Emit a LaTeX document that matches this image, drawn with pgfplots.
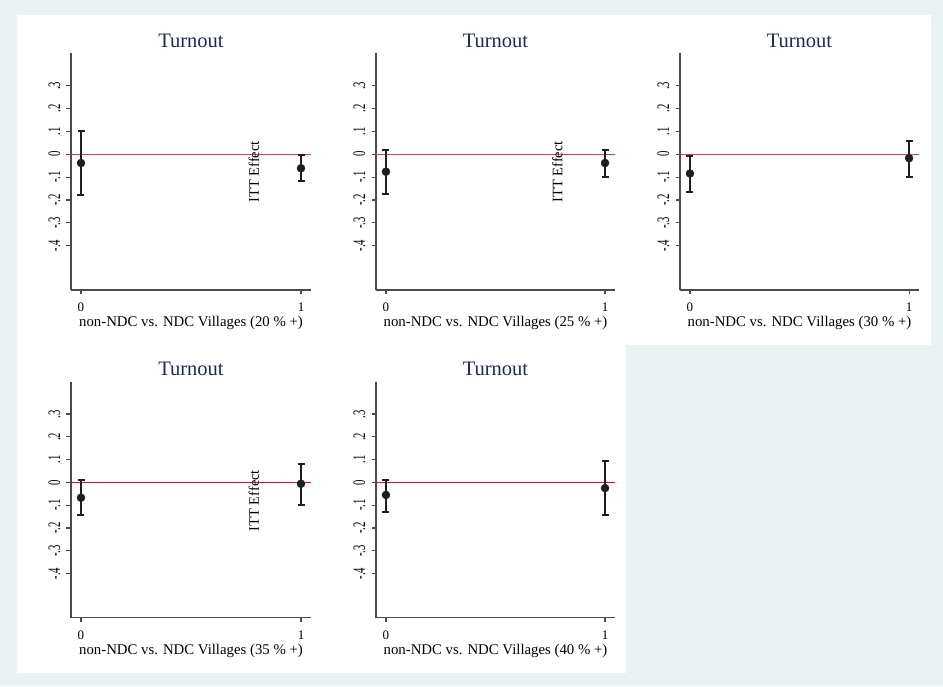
\documentclass[border=0pt]{standalone}
\usepackage{fontspec}
\setmainfont{Liberation Serif}
\usepackage{pgfplots}
\pgfplotsset{compat=1.18}
\usepackage{pgfplotstable}
\definecolor{bg}{HTML}{EAF2F3}
\definecolor{ttl}{HTML}{1C2A5A}
\definecolor{zl}{HTML}{D83A62}
\definecolor{zlb}{HTML}{CC0A33}
\definecolor{axc}{HTML}{4A4A4A}
\definecolor{ptc}{HTML}{1E1E1E}

\pgfplotstableread{
x y ep em
0 -0.038 0.141 0.141
1 -0.061 0.058 0.055
}\dA
\pgfplotstableread{
x y ep em
0 -0.076 0.096 0.096
1 -0.038 0.058 0.060
}\dB
\pgfplotstableread{
x y ep em
0 -0.084 0.075 0.083
1 -0.017 0.077 0.081
}\dC
\pgfplotstableread{
x y ep em
0 -0.067 0.079 0.074
1 -0.006 0.087 0.091
}\dD
\pgfplotstableread{
x y ep em
0 -0.055 0.067 0.074
1 -0.025 0.118 0.116
}\dE

\pgfplotsset{panel/.style={
  scale only axis, width=240pt, height=236.7pt, anchor=south west,
  xmin=-0.04545, xmax=1.04545, ymin=-0.5935, ymax=0.4418,
  axis lines=left, axis line style={-, draw=axc, line width=1.1pt},
  tick align=outside, major tick length=4.5pt,
  tick style={draw=axc, line width=1.1pt},
  xtick={0,1}, xticklabels={0,1},
  ytick={-0.4,-0.3,-0.2,-0.1,0,0.1,0.2,0.3},
  yticklabels={-.4,-.3,-.2,-.1,0,.1,.2,.3},
  xticklabel style={font=\fontsize{13}{15}\selectfont, anchor=base, yshift=-17.5pt},
  yticklabel style={font=\fontsize{13}{15}\selectfont, text=black, anchor=base, xshift=-6.4pt, rotate=90, xscale=0.82, yscale=1.35},
  title=Turnout,
  title style={font=\fontsize{20.5}{24}\selectfont, text=ttl, at={(axis description cs:0.5,1)}, anchor=base, yshift=0pt},
  xlabel style={font=\fontsize{14.8}{17}\selectfont, at={(axis description cs:0.5,0)}, anchor=base, yshift=-36.7pt},
  clip=false,
}}
\newcommand{\pts}[1]{%
  \addplot[only marks, mark=*, mark size=4pt, mark options={fill=ptc, draw=ptc},
    error bars/.cd, y dir=both, y explicit,
    error bar style={line width=2.2pt, draw=ptc},
    error mark options={rotate=90, line width=2pt, mark size=3.5pt, draw=ptc}]
    table[x=x, y=y, y error plus=ep, y error minus=em] {#1};}

\begin{document}
\begin{tikzpicture}[x=1pt,y=1pt]
\fill[bg] (0,0) rectangle (943,686);
\fill[white] (17,341) rectangle (931,671);
\fill[white] (17,13) rectangle (626,341);

\begin{axis}[panel, at={(71pt,396pt)}, xlabel={non-NDC vs. NDC Villages (20 \% +)}]
\addplot[zl, line width=1.3pt] coordinates {(-0.04545,0) (1.04545,0)};
\pts{\dA}
\node[rotate=90, font=\fontsize{14.5}{17}\selectfont] at (axis cs:0.786,-0.077) {ITT Effect};
\end{axis}

\begin{axis}[panel, at={(376pt,396pt)}, width=239pt, xlabel={non-NDC vs. NDC Villages (25 \% +)}]
\addplot[zl, line width=1.3pt] coordinates {(-0.04545,0) (1.04545,0)};
\pts{\dB}
\node[rotate=90, font=\fontsize{14.5}{17}\selectfont] at (axis cs:0.782,-0.077) {ITT Effect};
\end{axis}

\begin{axis}[panel, at={(680pt,396pt)}, width=239pt, xlabel={non-NDC vs. NDC Villages (30 \% +)}]
\addplot[zl, line width=1.3pt] coordinates {(-0.04545,0) (1.04545,0)};
\pts{\dC}
\end{axis}

\begin{axis}[panel, at={(71pt,68.3pt)}, height=236pt, xlabel={non-NDC vs. NDC Villages (35 \% +)}]
\addplot[zlb, line width=1pt] coordinates {(-0.04545,0) (1.04545,0)};
\pts{\dD}
\node[rotate=90, font=\fontsize{14.5}{17}\selectfont] at (axis cs:0.786,-0.080) {ITT Effect};
\end{axis}

\begin{axis}[panel, at={(376pt,68.3pt)}, width=239pt, height=236pt, xlabel={non-NDC vs. NDC Villages (40 \% +)}]
\addplot[zlb, line width=1pt] coordinates {(-0.04545,0) (1.04545,0)};
\pts{\dE}
\end{axis}
\end{tikzpicture}
\end{document}
